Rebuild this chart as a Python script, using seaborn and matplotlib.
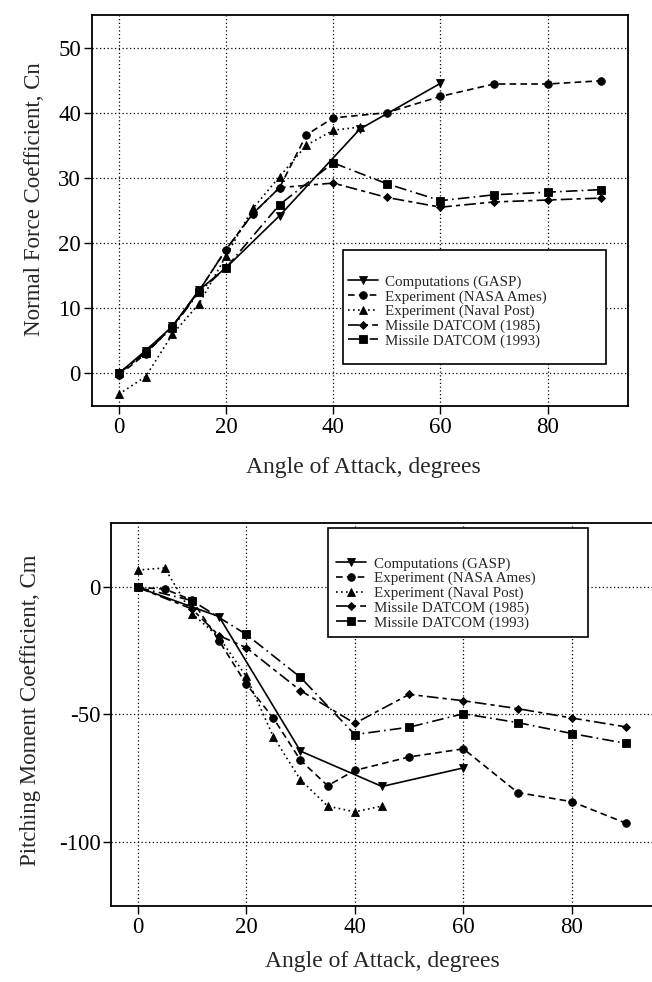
import matplotlib
matplotlib.use("Agg")
import matplotlib.pyplot as plt
from matplotlib.patches import Rectangle
import seaborn as sns

# --- normal force coefficient Cn ---
gasp_a_cn = [0, 5, 10, 15, 20, 30, 45, 60]
gasp_cn = [0, 3.5, 7.2, 12.8, 16.2, 24.2, 37.5, 44.5]
nasa_a_cn = [0, 5, 10, 15, 20, 25, 30, 35, 40, 50, 60, 70, 80, 90]
nasa_cn = [-0.3, 3.0, 7.2, 12.7, 19.0, 24.5, 28.5, 36.6, 39.2, 40.0, 42.5, 44.4, 44.4, 44.9]
naval_a_cn = [0, 5, 10, 15, 20, 25, 30, 35, 40, 45]
naval_cn = [-3.2, -0.5, 6.0, 10.7, 18.0, 25.3, 30.2, 35.0, 37.3, 37.8]
d85_a_cn = [0, 5, 10, 15, 20, 25, 30, 40, 50, 60, 70, 80, 90]
d85_cn = [0, 3.2, 7.2, 12.7, 19.0, 24.5, 28.5, 29.2, 27.0, 25.5, 26.3, 26.6, 26.9]
d93_a_cn = [0, 5, 10, 15, 20, 30, 40, 50, 60, 70, 80, 90]
d93_cn = [0, 3.2, 7.0, 12.5, 16.2, 25.9, 32.3, 29.1, 26.5, 27.4, 27.8, 28.2]

# --- pitching moment coefficient Cm ---
gasp_a_cm = [0, 15, 30, 45, 60]
gasp_cm = [0, -11.5, -64.4, -78.3, -71.0]
nasa_a_cm = [0, 5, 10, 15, 20, 25, 30, 35, 40, 50, 60, 70, 80, 90]
nasa_cm = [0, -0.7, -5.0, -21.0, -38.0, -51.4, -68.0, -78.0, -72.0, -66.7, -63.5, -80.7, -84.3, -92.8]
naval_a_cm = [0, 5, 10, 15, 20, 25, 30, 35, 40, 45]
naval_cm = [6.8, 7.6, -10.3, -19.6, -35.0, -58.7, -75.7, -86.0, -88.3, -86.0]
d85_a_cm = [0, 10, 15, 20, 30, 40, 50, 60, 70, 80, 90]
d85_cm = [0, -8.5, -19.0, -23.7, -40.6, -53.5, -42.1, -44.6, -47.7, -51.4, -54.9]
d93_a_cm = [0, 10, 20, 30, 40, 50, 60, 70, 80, 90]
d93_cm = [0, -5.2, -18.5, -35.4, -57.9, -55.0, -49.7, -53.2, -57.5, -61.4]

names = ["Computations (GASP)", "Experiment (NASA Ames)", "Experiment (Naval Post)",
         "Missile DATCOM (1985)", "Missile DATCOM (1993)"]
# marker, size, linestyle
style = {
    names[0]: ("v", 5.5, "-"),
    names[1]: ("o", 5.5, (0, (4, 2.5))),
    names[2]: ("^", 5.5, (0, (1, 2))),
    names[3]: ("D", 4, (0, (7, 2.5, 2.5, 2.5))),
    names[4]: ("s", 5.5, (0, (7, 2.5, 1, 2.5))),
}

sns.set_style("ticks")
plt.rcParams['font.family'] = ['Liberation Serif', 'DejaVu Serif']
plt.rcParams['axes.unicode_minus'] = False


def draw(ax, series, xlim, ylim, yticks):
    for name, a, v in zip(names, *series):
        m, ms, ls = style[name]
        sns.lineplot(x=a, y=v, ax=ax, color="black", marker=m, markersize=ms,
                     linestyle=ls, linewidth=1.2, label=name, estimator=None,
                     sort=False, markeredgecolor="black", markeredgewidth=0.6)
    ax.set_xlim(*xlim)
    ax.set_ylim(*ylim)
    ax.set_xticks([0, 20, 40, 60, 80])
    ax.set_yticks(yticks)
    ax.grid(True, linestyle=(0, (1, 2)), color="black", linewidth=0.9)
    ax.tick_params(direction="out", length=6, width=1, labelsize=16.5, pad=2,
                   colors="black")
    for sp in ax.spines.values():
        sp.set_visible(True)
        sp.set_linewidth(1.3)
        sp.set_color("black")


def add_legend(ax, box, anchor):
    x0, y0, x1, y1 = box
    ax.add_patch(Rectangle((x0, y0), x1 - x0, y1 - y0, transform=ax.transAxes,
                           facecolor="white", edgecolor="black", lw=1.2, zorder=6))
    h, l = ax.get_legend_handles_labels()
    leg = ax.legend(h, l, loc="upper left", bbox_to_anchor=anchor, frameon=False,
                    fontsize=10.8, handlelength=2.0, handletextpad=0.5,
                    labelspacing=0.07, borderpad=0, borderaxespad=0)
    leg.set_zorder(7)


fig = plt.figure(figsize=(6.52, 9.82), dpi=100)
ax1 = fig.add_axes([0.1411, 0.5866, 0.8221, 0.3982])
ax2 = fig.add_axes([0.1710, 0.0774, 0.8413, 0.3903])

draw(ax1, [[gasp_a_cn, nasa_a_cn, naval_a_cn, d85_a_cn, d93_a_cn],
           [gasp_cn, nasa_cn, naval_cn, d85_cn, d93_cn]],
     (-5, 95), (-5, 55), [0, 10, 20, 30, 40, 50])
draw(ax2, [[gasp_a_cm, nasa_a_cm, naval_a_cm, d85_a_cm, d93_a_cm],
           [gasp_cm, nasa_cm, naval_cm, d85_cm, d93_cm]],
     (-4.8, 96.2), (-125.3, 25.4), [-100, -50, 0])

add_legend(ax1, (0.468, 0.1074, 0.959, 0.399), (0.4776, 0.3345))
add_legend(ax2, (0.3947, 0.7018, 0.8687, 0.986), (0.4093, 0.9104))

ax1.set_ylabel("Normal Force Coefficient, Cn", fontsize=16.5)
ax1.set_xlabel("Angle of Attack, degrees", fontsize=17)
ax2.set_ylabel("Pitching Moment Coefficient, Cm", fontsize=16.5)
ax2.set_xlabel("Angle of Attack, degrees", fontsize=17)
for ax in (ax1, ax2):
    ax.yaxis.label.set_va("center")
    ax.xaxis.label.set_va("center")
ax1.yaxis.set_label_coords(-0.107, 0.529)
ax1.xaxis.set_label_coords(0.506, -0.1586)
ax2.yaxis.set_label_coords(-0.147, 0.511)
ax2.xaxis.set_label_coords(0.493, -0.146)

fig.savefig("out.png", dpi=100)
